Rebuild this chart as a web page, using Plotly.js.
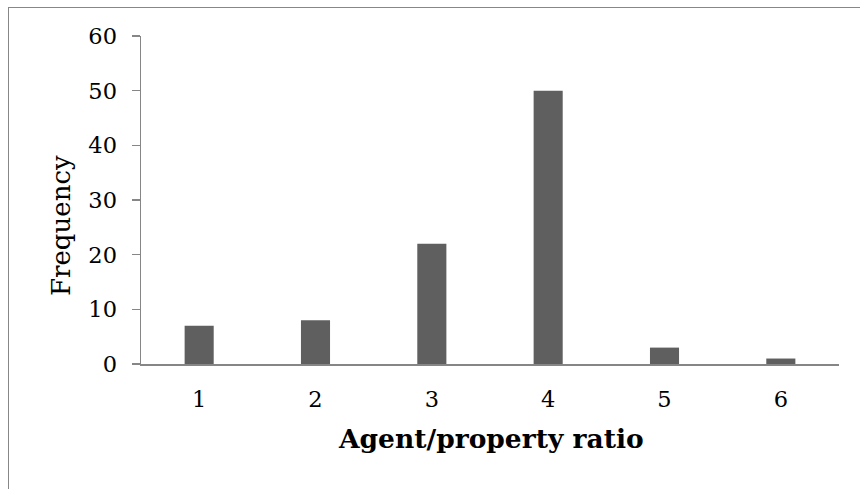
<!DOCTYPE html>
<html>
<head>
<meta charset="utf-8">
<script src="https://cdn.plot.ly/plotly-3.0.1.min.js"></script>
<style>
  html, body { margin: 0; padding: 0; background: #fff; }
  #wrap { position: relative; width: 860px; height: 489px; overflow: hidden; }
  #chart { position: absolute; left: 0; top: 0; width: 860px; height: 489px; }
  #frame { position: absolute; left: 8px; top: 7px; width: 900px; height: 520px;
           border-top: 1.5px solid #878787; border-left: 1.5px solid #878787;
           pointer-events: none; }
</style>
</head>
<body>
<div id="wrap">
  <div id="chart"></div>
  <div id="frame"></div>
</div>
<script>
// Ratio of agents to properties and how often each occurs
const ratios = ['1', '2', '3', '4', '5', '6'];
const frequency = [7, 8, 22, 50, 3, 1];
const yTicks = [0, 10, 20, 30, 40, 50, 60];
const xTitle = 'Agent/property ratio';
const yTitle = 'Frequency';

const serif = 'DejaVu Serif, Liberation Serif, serif';
const axisGrey = '#868686';

// plot area in pixels
const W = 860, H = 489;
const M = { l: 141, r: 21, t: 36, b: 125 };
const pw = W - M.l - M.r, ph = H - M.t - M.b;
const px = x => (x - M.l) / pw;          // pixel -> paper x
const py = y => 1 - (y - M.t) / ph;      // pixel -> paper y

const trace = {
  type: 'bar',
  x: ratios,
  y: frequency,
  width: 0.25,
  marker: { color: '#5f5f5f', line: { width: 0 } },
  hoverinfo: 'x+y'
};

const layout = {
  width: W,
  height: H,
  margin: { l: M.l, r: M.r, t: M.t, b: M.b, pad: 0 },
  paper_bgcolor: '#ffffff',
  plot_bgcolor: '#ffffff',
  showlegend: false,
  xaxis: {
    type: 'category',
    showline: true,
    linecolor: axisGrey,
    linewidth: 1.5,
    ticks: '',
    showgrid: false,
    zeroline: false,
    ticklabelstandoff: 14,
    tickfont: { family: serif, size: 22.5, color: '#000' }
  },
  yaxis: {
    range: [0, 60],
    tickvals: yTicks,
    ticktext: yTicks.map(String),
    showline: true,
    linecolor: axisGrey,
    linewidth: 1.5,
    ticks: 'outside',
    ticklen: 8,
    tickwidth: 1.5,
    tickcolor: axisGrey,
    showgrid: false,
    zeroline: false,
    ticklabelstandoff: 10,
    tickfont: { family: serif, size: 22.5, color: '#000' }
  },
  annotations: [
    {
      text: '<b>' + xTitle + '</b>',
      xref: 'paper', yref: 'paper',
      x: px(491), y: py(438),
      xanchor: 'center', yanchor: 'middle',
      showarrow: false,
      font: { family: serif, size: 26.5, color: '#000' }
    },
    {
      text: yTitle,
      xref: 'paper', yref: 'paper',
      x: px(61), y: py(226),
      xanchor: 'center', yanchor: 'middle',
      textangle: -90,
      showarrow: false,
      font: { family: serif, size: 26, color: '#000' }
    }
  ]
};

Plotly.newPlot('chart', [trace], layout, { displayModeBar: false, staticPlot: true });
</script>
</body>
</html>
